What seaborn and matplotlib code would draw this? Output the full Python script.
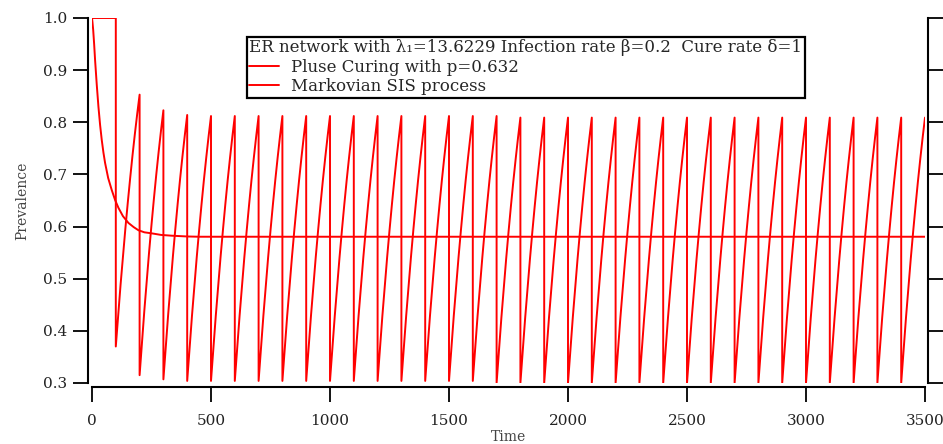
import numpy as np
import pandas as pd
import matplotlib
matplotlib.use("Agg")
import matplotlib.pyplot as plt
from matplotlib.lines import Line2D
import seaborn as sns

# ---- data -----------------------------------------------------------------
period = 100
# prevalence just before each curing pulse (t = 200, 300, ..., 3500)
pulse_peaks = ([0.853, 0.823, 0.814] + [0.812] * 13 + [0.809] * 18)
# prevalence right after each curing pulse (t = 100, 200, ..., 3400)
pulse_troughs = ([0.370, 0.315, 0.307] + [0.304] * 13 + [0.300] * 18)
# shape of the regrowth between two pulses (fraction of period -> fraction of rise)
rise_phase = [0.0, 0.1, 0.2, 0.3, 0.4, 0.5, 0.6, 0.7, 0.8, 0.9, 1.0]
rise_level = [0.0, 0.125, 0.245, 0.358, 0.466, 0.568, 0.665, 0.757, 0.843, 0.924, 1.0]

# Markovian SIS mean prevalence
sis_time = [0, 2, 5, 9, 13, 20, 27, 34, 41, 48, 55, 68, 83, 97, 111, 130, 153,
            175, 195, 220, 251, 290, 335, 400, 450, 3500]
sis_prev = [1.0, 0.992, 0.977, 0.950, 0.919, 0.872, 0.830, 0.795, 0.766, 0.742,
            0.722, 0.693, 0.670, 0.651, 0.636, 0.620, 0.607, 0.599, 0.593, 0.589,
            0.587, 0.584, 0.5825, 0.581, 0.5805, 0.5805]

label_pulse = "Pluse Curing with p=0.632"
label_sis = "Markovian SIS process"
legend_title = "ER network with λ₁=13.6229 Infection rate β=0.2  Cure rate δ=1"
x_ticks = [0, 500, 1000, 1500, 2000, 2500, 3000, 3500]
y_ticks = [0.3, 0.4, 0.5, 0.6, 0.7, 0.8, 0.9, 1.0]

# ---- assemble the pulse-curing trajectory ---------------------------------
pt, pv = [0, period], [1.0, 1.0]
for k, (lo, hi) in enumerate(zip(pulse_troughs, pulse_peaks)):
    t0 = period * (k + 1)
    for ph, lv in zip(rise_phase, rise_level):
        pt.append(t0 + ph * period)
        pv.append(lo + lv * (hi - lo))

df = pd.concat([
    pd.DataFrame({"Time": pt, "Prevalence": pv, "series": label_pulse}),
    pd.DataFrame({"Time": sis_time, "Prevalence": sis_prev, "series": label_sis}),
], ignore_index=True)

# ---- figure ---------------------------------------------------------------
sns.set_style("ticks")
plt.rcParams["font.family"] = ["DejaVu Serif"]

fig = plt.figure(figsize=(9.43, 4.44), dpi=100)
ax = fig.add_axes([92 / 943, 1 - 383 / 444, 833 / 943, 365 / 444])

for name in [label_sis, label_pulse]:
    sub = df[df["series"] == name]
    sns.lineplot(data=sub, x="Time", y="Prevalence", ax=ax, color="#ff0000",
                 linewidth=1.4, sort=False, estimator=None, legend=False)

ax.set_xlim(0, 3500)
ax.set_ylim(0.3, 1.0)
ax.set_xticks(x_ticks)
ax.set_yticks(y_ticks)
ax.set_yticklabels([f"{v:.1f}" for v in y_ticks])

ax.spines["top"].set_visible(False)
for side in ["left", "bottom", "right"]:
    ax.spines[side].set_linewidth(1.5)
    ax.spines[side].set_color("black")
ax.spines["left"].set_position(("outward", 3))
ax.spines["bottom"].set_position(("outward", 3))
ax.spines["right"].set_position(("outward", 2))

ax.tick_params(axis="y", left=True, right=True, direction="out", length=11,
               width=1.3, labelsize=11, pad=4, colors="black")
ax.tick_params(axis="x", bottom=True, direction="out", length=11, width=1.3,
               labelsize=11, pad=8, colors="black")
for lab in ax.get_xticklabels() + ax.get_yticklabels():
    lab.set_color("#222222")

ax.set_xlabel("Time", fontsize=10, color="#444444", labelpad=2)
ax.set_ylabel("Prevalence", fontsize=10, color="#444444", labelpad=10)

handles = [Line2D([], [], color="#ff0000", linewidth=1.4),
           Line2D([], [], color="#ff0000", linewidth=1.4)]
leg = ax.legend(handles, [label_pulse, label_sis], title=legend_title,
                loc="upper left", bbox_to_anchor=(0.186, 0.948),
                borderaxespad=0, fontsize=12, title_fontsize=12,
                alignment="left", frameon=True, fancybox=False,
                edgecolor="black", framealpha=1, handlelength=1.8,
                handletextpad=0.7, borderpad=0.15, labelspacing=0.12)
leg.get_frame().set_linewidth(1.6)
leg._legend_box.sep = 2

fig.savefig("out.png", dpi=100)
